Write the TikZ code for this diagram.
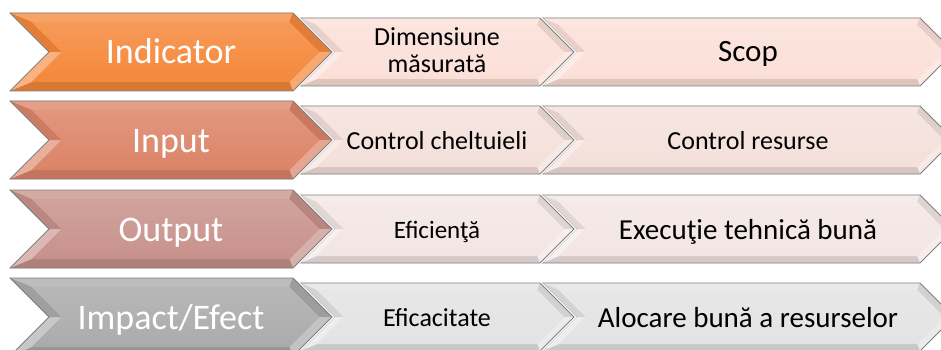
\documentclass[tikz,border=0pt]{standalone}
\usepackage{fontspec}
\setmainfont{Carlito}
\definecolor{cOrange}{HTML}{F5883B}
\definecolor{cSalmon}{HTML}{DC8468}
\definecolor{cRose}{HTML}{C8928B}
\definecolor{cGrey}{HTML}{ABABAB}
\definecolor{pOne}{HTML}{FBE0D8}
\definecolor{pTwo}{HTML}{F4E0DB}
\definecolor{pThree}{HTML}{F2E6E4}
\definecolor{pFour}{HTML}{E3E3E3}
\newcommand{\chev}[7]{%
 \coordinate (A) at (#1,{#3-#4});
 \coordinate (B) at (#2,{#3-#4});
 \coordinate (C) at ({#2+#5},#3);
 \coordinate (D) at (#2,{#3+#4});
 \coordinate (E) at (#1,{#3+#4});
 \coordinate (F) at ({#1+#5},#3);
 \coordinate (a) at ({#1+2.414*#6},{#3-#4+#6});
 \coordinate (b) at ({#2-0.414*#6},{#3-#4+#6});
 \coordinate (c) at ({#2+#5-1.414*#6},#3);
 \coordinate (d) at ({#2-0.414*#6},{#3+#4-#6});
 \coordinate (e) at ({#1+2.414*#6},{#3+#4-#6});
 \coordinate (f) at ({#1+#5+1.414*#6},#3);
 \draw[white,line width=3.2,line join=miter] (A)--(B)--(C)--(D)--(E)--(F)--cycle;
 \fill[#7] (A)--(B)--(C)--(D)--(E)--(F)--cycle;
 \fill[#7!78!white] (A)--(B)--(b)--(a)--cycle;
 \fill[#7!92!black] (B)--(C)--(c)--(b)--cycle;
 \fill[#7!72!white] (C)--(D)--(d)--(c)--cycle;
 \fill[#7!88!black] (D)--(E)--(e)--(d)--cycle;
 \fill[#7!65!white] (E)--(F)--(f)--(e)--cycle;
 \fill[#7!93!black] (F)--(A)--(a)--(f)--cycle;
 \shade[top color=#7!85!white,bottom color=#7] (a)--(b)--(c)--(d)--(e)--(f)--cycle;
 \draw[black!50,line width=.8,line join=miter] (A)--(B)--(C)--(D)--(E)--(F)--cycle;
}
\begin{document}
\begin{tikzpicture}[x=1pt,y=-1pt,
  lefttext/.style={text=white,font=\fontsize{36}{38}\selectfont,inner sep=0pt,anchor=base},
  righttext/.style={text=black,inner sep=0pt,anchor=base}]
\useasboundingbox (0,0) rectangle (941,350);
\clip (0,0) rectangle (941,350);
\fill[white] (0,0) rectangle (941,350);
% row 1
\chev{542}{920}{52}{34}{34}{7}{pOne}
\chev{300}{540}{52}{34}{34}{7}{pOne}
\chev{10}{293}{52}{39}{39}{9}{cOrange}
% row 2
\chev{542}{920}{140}{34}{34}{7}{pTwo}
\chev{300}{540}{140}{34}{34}{7}{pTwo}
\chev{10}{293}{140}{39}{39}{9}{cSalmon}
% row 3
\chev{542}{920}{229}{34}{34}{7}{pThree}
\chev{300}{540}{229}{34}{34}{7}{pThree}
\chev{10}{293}{229}{39}{39}{9}{cRose}
% row 4
\chev{542}{920}{317}{34}{34}{7}{pFour}
\chev{300}{540}{317}{34}{34}{7}{pFour}
\chev{10}{293}{317}{39}{39}{9}{cGrey}
% texts
\node[lefttext] (l1) at (171,64) {Indicator};
\node[lefttext] (l2) at (171,152) {Input};
\node[lefttext] (l3) at (171,241) {Output};
\node[lefttext] (l4) at (171,329) {Impact/Efect};
\node[righttext,font=\fontsize{26}{27}\selectfont] (m1a) at (437,46) {Dimensiune};
\node[righttext,font=\fontsize{26}{27}\selectfont] (m1b) at (437,73) {măsurată};
\node[righttext,font=\fontsize{26}{28}\selectfont] (m2) at (437,149) {Control cheltuieli};
\node[righttext,font=\fontsize{25}{28}\selectfont] (m3) at (437,238) {Eficienţă};
\node[righttext,font=\fontsize{26}{28}\selectfont] (m4) at (437,326) {Eficacitate};
\node[righttext,font=\fontsize{31}{33}\selectfont] (r1) at (748,62) {Scop};
\node[righttext,font=\fontsize{26}{28}\selectfont] (r2) at (748,149) {Control resurse};
\node[righttext,font=\fontsize{29}{31}\selectfont] (r3) at (748,239) {Execuţie tehnică bună};
\node[righttext,font=\fontsize{29}{31}\selectfont] (r4) at (748,327) {Alocare bună a resurselor};
\end{tikzpicture}
\end{document}
